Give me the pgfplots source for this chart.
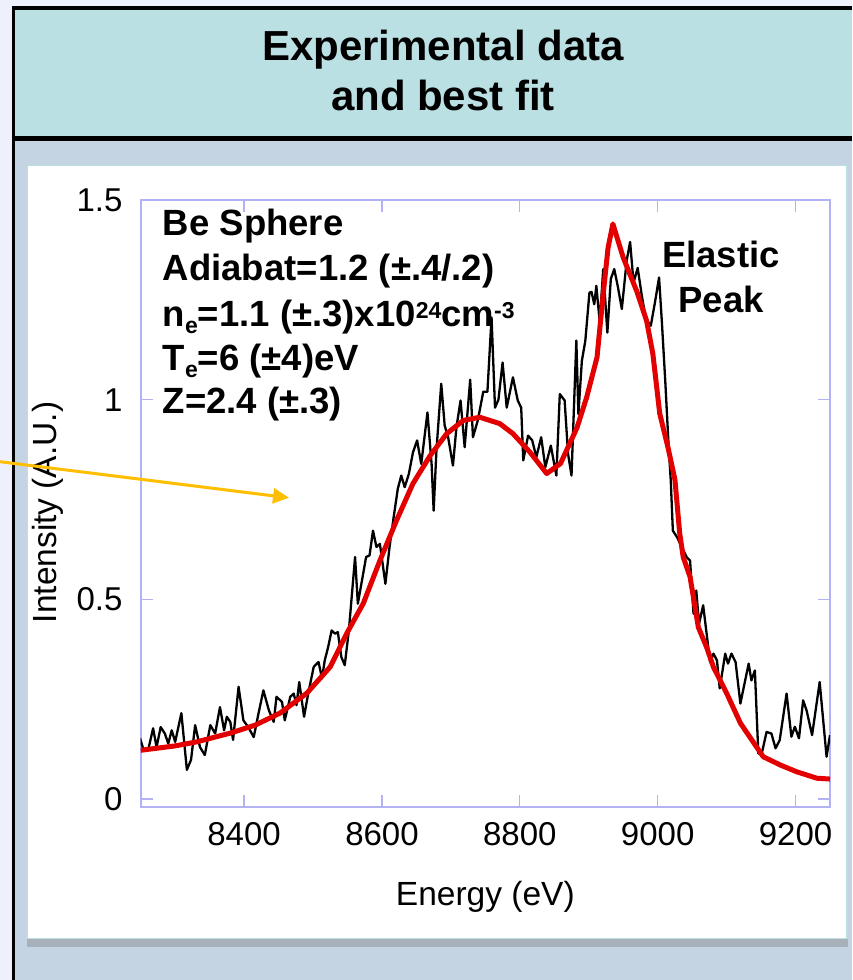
\documentclass[border=0pt]{standalone}
\usepackage{fontspec}
\setmainfont{Liberation Sans}
\usepackage{pgfplots}
\pgfplotsset{compat=1.18}
\usetikzlibrary{arrows.meta}

\definecolor{outerbg}{RGB}{238,240,252}
\definecolor{headbg}{RGB}{186,224,227}
\definecolor{panelbg}{RGB}{196,212,226}
\definecolor{panelline}{RGB}{186,224,227}
\definecolor{shadowc}{RGB}{168,177,186}
\definecolor{axisc}{RGB}{178,178,244}
\definecolor{fitred}{RGB}{226,0,0}
\definecolor{arrowc}{RGB}{255,190,0}

% measured spectrum
\pgfplotstableread{
E I
8249 0.152
8254 0.124
8261 0.124
8268 0.177
8273 0.130
8279 0.180
8285 0.164
8290 0.139
8295 0.172
8300 0.143
8309 0.215
8317 0.073
8323 0.098
8329 0.185
8336 0.130
8343 0.110
8351 0.185
8358 0.164
8365 0.230
8371 0.172
8375 0.206
8380 0.193
8384 0.148
8392 0.281
8399 0.197
8406 0.180
8414 0.155
8421 0.215
8428 0.272
8436 0.222
8443 0.193
8447 0.256
8455 0.243
8459 0.197
8467 0.256
8472 0.264
8476 0.235
8480 0.293
8487 0.206
8493 0.264
8501 0.331
8508 0.343
8513 0.302
8517 0.347
8522 0.381
8527 0.422
8532 0.414
8536 0.418
8541 0.356
8546 0.335
8552 0.422
8561 0.606
8565 0.489
8571 0.547
8577 0.606
8582 0.610
8587 0.672
8592 0.631
8597 0.639
8605 0.539
8611 0.631
8617 0.706
8623 0.777
8628 0.810
8633 0.781
8639 0.814
8645 0.868
8651 0.898
8657 0.839
8666 0.968
8672 0.839
8675 0.722
8679 0.872
8686 1.040
8691 0.935
8696 0.906
8703 0.835
8708 0.930
8714 0.998
8720 0.881
8728 1.050
8732 0.906
8739 0.948
8747 1.020
8753 1.020
8759 1.206
8764 0.980
8769 1.000
8775 1.093
8781 0.980
8790 1.056
8797 0.998
8802 0.980
8805 0.848
8812 0.910
8818 0.898
8824 0.856
8831 0.906
8837 0.831
8845 0.885
8853 0.810
8858 1.014
8865 0.998
8870 0.864
8875 0.810
8882 1.148
8885 0.964
8890 1.097
8895 1.147
8901 1.268
8904 1.270
8908 1.239
8911 1.285
8916 1.193
8921 1.327
8927 1.168
8932 1.302
8937 1.327
8942 1.285
8948 1.227
8955 1.348
8960 1.395
8965 1.293
8971 1.330
8977 1.260
8983 1.202
8990 1.185
8996 1.243
9002 1.306
9006 1.197
9011 1.047
9016 0.880
9019 0.797
9022 0.672
9028 0.656
9035 0.631
9042 0.606
9047 0.597
9052 0.464
9056 0.522
9060 0.439
9066 0.485
9071 0.414
9076 0.343
9081 0.364
9086 0.347
9090 0.277
9098 0.364
9102 0.339
9107 0.364
9113 0.343
9120 0.239
9125 0.281
9132 0.339
9136 0.297
9141 0.322
9146 0.114
9151 0.114
9158 0.168
9165 0.164
9171 0.127
9177 0.147
9187 0.264
9194 0.156
9199 0.181
9205 0.152
9211 0.247
9216 0.222
9224 0.160
9235 0.293
9245 0.106
9250 0.160
}\measured

% best-fit synthetic spectrum
\pgfplotstableread{
E I
8250 0.122
8300 0.133
8331 0.143
8380 0.165
8416 0.185
8452 0.215
8491 0.265
8525 0.331
8549 0.415
8573 0.490
8597 0.597
8621 0.697
8645 0.790
8670 0.860
8694 0.915
8718 0.948
8742 0.956
8771 0.940
8790 0.915
8815 0.868
8839 0.815
8859 0.840
8883 0.930
8897 1.006
8912 1.106
8921 1.265
8928 1.380
8935 1.440
8950 1.356
8970 1.270
8984 1.197
8993 1.115
9003 0.965
9015 0.880
9025 0.800
9032 0.665
9037 0.606
9047 0.556
9059 0.430
9071 0.380
9081 0.330
9100 0.265
9120 0.190
9153 0.106
9178 0.085
9202 0.068
9231 0.052
9250 0.050
}\bestfit

\newcommand\lowidx[1]{\raisebox{-7pt}{\fontsize{23}{23}\selectfont #1}}
\newcommand\highidx[1]{\raisebox{8pt}{\fontsize{23}{23}\selectfont #1}}

\begin{document}
\begin{tikzpicture}[x=1pt,y=1pt]
\path[use as bounding box] (0,0) rectangle (852,-980);
% slide background and frame
\fill[outerbg] (0,0) rectangle (852,-980);
\fill[headbg] (15,-10) rectangle (852,-136);
\fill[panelbg] (15,-141) rectangle (852,-980);
\fill[black] (12,-6) rectangle (852,-10);
\fill[black] (12,-6) rectangle (15,-980);
\fill[black] (15,-136) rectangle (852,-141);
% white plot card with its shadow
\fill[shadowc] (27,-938) rectangle (848,-946.5);
\filldraw[fill=white, draw=panelline, line width=1.2pt] (27.6,-165.6) rectangle (847,-938.6);

\node[font=\fontsize{42}{50}\selectfont\bfseries, anchor=base] at (443,-60) {Experimental data};
\node[font=\fontsize{42}{50}\selectfont\bfseries, anchor=base] at (443,-110.7) {and best fit};

\begin{axis}[
  at={(140.7pt,-806.7pt)}, anchor=south west,
  scale only axis, width=689.3pt, height=606.7pt,
  xmin=8250, xmax=9250, ymin=-0.0193, ymax=1.5,
  xtick={8400,8600,8800,9000,9200}, ytick={0,0.5,1,1.5},
  xtick pos=both, ytick pos=both,
  axis line style={axisc, line width=1.6pt},
  every tick/.style={axisc, line width=1.3pt},
  major tick length=12pt,
  /pgf/number format/assume math mode=true,
  /pgf/number format/1000 sep={},
  tick label style={font=\fontsize{33}{40}\selectfont, inner sep=0pt},
  xticklabel style={yshift=-16pt},
  yticklabel style={xshift=-18pt},
  label style={font=\fontsize{33.5}{40}\selectfont},
  xlabel={Energy (eV)}, ylabel={Intensity (A.U.)},
  xlabel style={at={(axis description cs:0.5,-0.149)}, anchor=center},
  ylabel style={at={(axis description cs:-0.1352,0.485)}, anchor=center},
]
\addplot[black, line width=2.3pt, line join=round] table[x=E, y=I] {\measured};
\addplot[fitred, line width=5pt, line join=round] table[x=E, y=I] {\bestfit};
\end{axis}

% fit parameters
\begin{scope}[every node/.style={font=\fontsize{36.5}{44}\selectfont\bfseries, anchor=base west, inner sep=0pt}]
\node at (162.7,-235) {Be Sphere};
\node at (162.7,-280) {Adiabat=1.2 (±.4/.2)};
\node at (162.7,-326.7) {n\lowidx{e}=1.1 (±.3)x10\highidx{24}cm\highidx{-3}};
\node at (162.7,-370) {T\lowidx{e}=6 (±4)eV};
\node at (162.7,-413) {Z=2.4 (±.3)};
\end{scope}
\node[font=\fontsize{36.5}{44}\selectfont\bfseries, anchor=base, inner sep=0pt] at (721,-267) {Elastic};
\node[font=\fontsize{36.5}{44}\selectfont\bfseries, anchor=base, inner sep=0pt] at (721,-312) {Peak};

\draw[arrowc, line width=3pt, -{Triangle[length=16pt,width=15pt]}] (0,-461.7) -- (289,-497.8);
\end{tikzpicture}
\end{document}
